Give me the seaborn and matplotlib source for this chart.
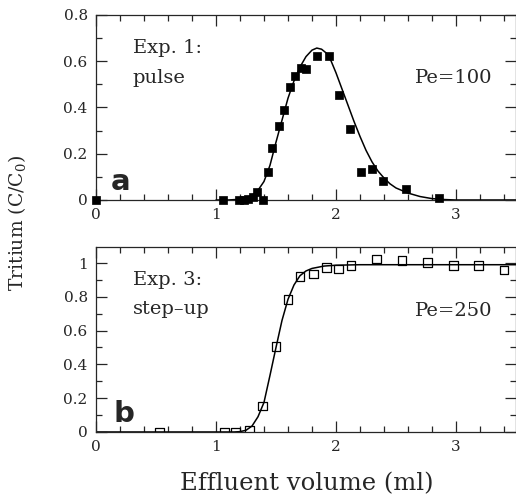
import matplotlib
matplotlib.use('Agg')
import matplotlib.pyplot as plt
import seaborn as sns
import pandas as pd
from matplotlib.ticker import MultipleLocator, FormatStrFormatter

# Exp. 1: pulse (measured)
pulse_vol = [0.0, 1.06, 1.19, 1.23, 1.27, 1.31, 1.34, 1.39, 1.43, 1.47, 1.525, 1.57,
             1.62, 1.66, 1.71, 1.75, 1.84, 1.94, 2.025, 2.12, 2.21, 2.30, 2.39, 2.58, 2.86]
pulse_conc = [0.0, 0.0, 0.0, 0.0, 0.005, 0.015, 0.036, 0.0, 0.123, 0.224, 0.32, 0.39,
              0.49, 0.537, 0.57, 0.568, 0.623, 0.623, 0.452, 0.306, 0.12, 0.133, 0.082, 0.046, 0.009]

# Exp. 1: model curve, Pe=100
fit_a_vol = [1.0, 1.1, 1.2, 1.25, 1.3, 1.35, 1.4, 1.45, 1.5, 1.55, 1.6, 1.65, 1.7, 1.75,
             1.8, 1.84, 1.88, 1.92, 1.96, 2.0, 2.05, 2.1, 2.15, 2.2, 2.25, 2.3, 2.35, 2.4,
             2.45, 2.5, 2.6, 2.7, 2.8, 2.9, 3.0, 3.5]
fit_a_conc = [0.0, 0.0, 0.003, 0.008, 0.02, 0.042, 0.08, 0.15, 0.25, 0.345, 0.44, 0.515,
              0.575, 0.62, 0.648, 0.657, 0.652, 0.635, 0.6, 0.55, 0.48, 0.41, 0.34, 0.275,
              0.215, 0.165, 0.125, 0.095, 0.07, 0.052, 0.03, 0.015, 0.006, 0.002, 0.0, 0.0]

# Exp. 3: step-up (measured)
step_vol = [0.53, 1.07, 1.16, 1.28, 1.39, 1.50, 1.60, 1.70, 1.81, 1.92, 2.02, 2.125,
            2.34, 2.55, 2.76, 2.98, 3.19, 3.40]
step_conc = [0.0, 0.0, 0.0, 0.01, 0.154, 0.505, 0.785, 0.92, 0.935, 0.972, 0.964, 0.984,
             1.024, 1.014, 1.002, 0.984, 0.984, 0.959]

# Exp. 3: model curve, Pe=250
fit_b_vol = [0.0, 1.15, 1.2, 1.25, 1.3, 1.35, 1.4, 1.45, 1.5, 1.55, 1.6, 1.65, 1.7, 1.75,
             1.8, 1.9, 2.0, 2.2, 2.5, 3.0, 3.5]
fit_b_conc = [0.0, 0.0, 0.002, 0.01, 0.035, 0.09, 0.175, 0.335, 0.5, 0.66, 0.785, 0.87,
              0.925, 0.953, 0.968, 0.982, 0.987, 0.99, 0.99, 0.99, 0.99]

sns.set_style('ticks')
plt.rcParams['font.family'] = ['DejaVu Serif']
plt.rcParams['mathtext.fontset'] = 'dejavuserif'
plt.rcParams['axes.linewidth'] = 0.9

fig = plt.figure(figsize=(5.16, 5.03), dpi=100)
ax_a = fig.add_axes([0.186, 0.6024, 0.814, 0.3678])
ax_b = fig.add_axes([0.186, 0.1412, 0.814, 0.3678])

df_a = pd.DataFrame({'vol': pulse_vol, 'conc': pulse_conc})
df_fa = pd.DataFrame({'vol': fit_a_vol, 'conc': fit_a_conc})
df_b = pd.DataFrame({'vol': step_vol, 'conc': step_conc})
df_fb = pd.DataFrame({'vol': fit_b_vol, 'conc': fit_b_conc})

sns.lineplot(data=df_fa, x='vol', y='conc', ax=ax_a, color='black', lw=1.1, sort=False)
sns.scatterplot(data=df_a, x='vol', y='conc', ax=ax_a, marker='s', s=40, color='black',
                edgecolor='black', clip_on=False, zorder=3)

sns.lineplot(data=df_fb, x='vol', y='conc', ax=ax_b, color='black', lw=1.1, sort=False)
sns.scatterplot(data=df_b, x='vol', y='conc', ax=ax_b, marker='s', s=40, facecolor='none',
                edgecolor='black', linewidth=0.9, zorder=3)

for ax, ylim in ((ax_a, 0.8), (ax_b, 1.095)):
    ax.set_xlim(0, 3.5)
    ax.set_ylim(0, ylim)
    ax.set_xlabel('')
    ax.set_ylabel('')
    ax.xaxis.set_major_locator(MultipleLocator(1))
    ax.xaxis.set_minor_locator(MultipleLocator(0.2))
    ax.yaxis.set_major_locator(MultipleLocator(0.2))
    ax.yaxis.set_minor_locator(MultipleLocator(0.1))
    ax.xaxis.set_major_formatter(FormatStrFormatter('%g'))
    ax.yaxis.set_major_formatter(FormatStrFormatter('%g'))
    ax.tick_params(which='both', direction='in', top=True, right=True, width=0.9,
                   labelsize=11, pad=6)
    ax.tick_params(which='major', length=8)
    ax.tick_params(which='minor', length=4.5)
    for sp in ax.spines.values():
        sp.set_visible(True)

ax_a.text(0.087, 0.795, 'Exp. 1:', fontsize=14, transform=ax_a.transAxes)
ax_a.text(0.087, 0.632, 'pulse', fontsize=14, transform=ax_a.transAxes)
ax_a.text(0.943, 0.632, 'Pe=100', fontsize=14, ha='right', transform=ax_a.transAxes)
ax_a.text(0.036, 0.054, 'a', fontsize=21, fontweight='bold', family='DejaVu Sans',
          transform=ax_a.transAxes)

ax_b.text(0.087, 0.795, 'Exp. 3:', fontsize=14, transform=ax_b.transAxes)
ax_b.text(0.087, 0.638, 'step\u2013up', fontsize=14, transform=ax_b.transAxes)
ax_b.text(0.943, 0.629, 'Pe=250', fontsize=14, ha='right', transform=ax_b.transAxes)
ax_b.text(0.042, 0.056, 'b', fontsize=21, fontweight='bold', family='DejaVu Sans',
          transform=ax_b.transAxes)

fig.text(0.033, 0.556, 'Tritium (C/C$_0$)', rotation=90, ha='center', va='center', fontsize=13.5)
fig.text(0.595, 0.038, 'Effluent volume (ml)', ha='center', va='center', fontsize=17.5)

fig.savefig('out.png', dpi=100)
